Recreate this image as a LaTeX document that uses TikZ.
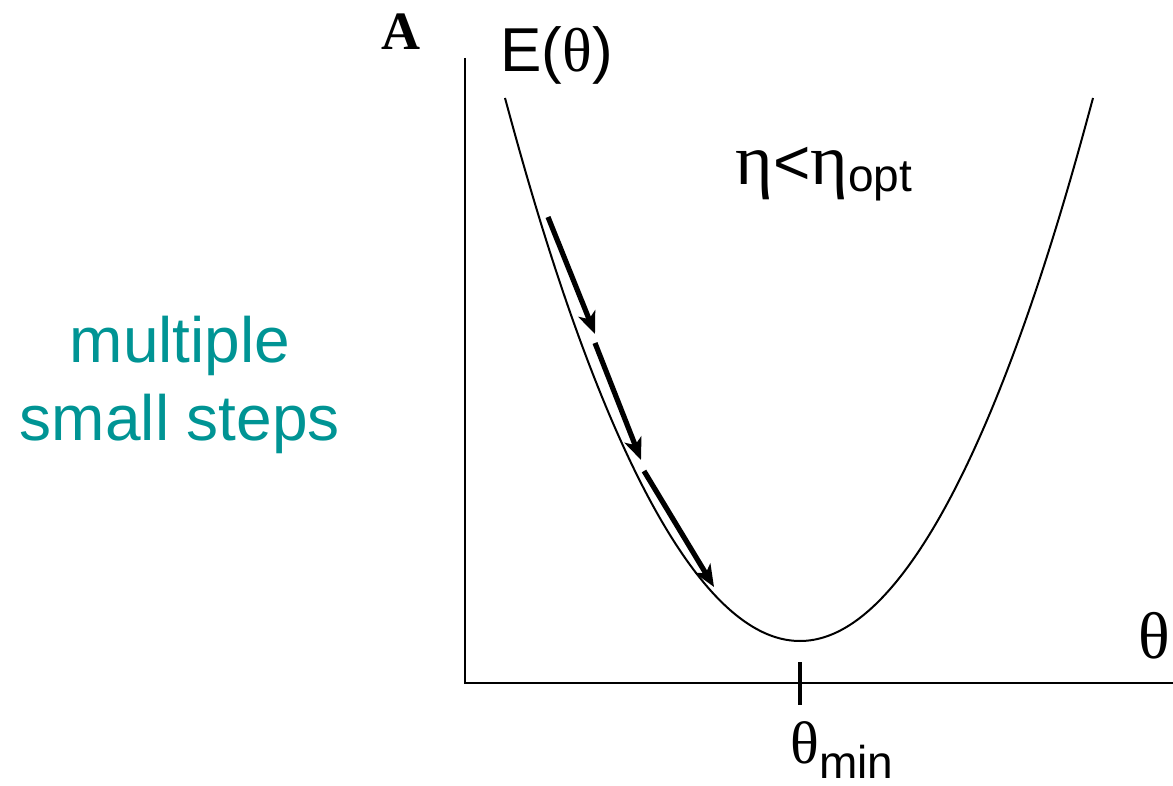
\documentclass[tikz,border=0pt]{standalone}
\usepackage{fontspec}
\setmainfont{Liberation Sans}
\newfontfamily\grk{Liberation Serif}
\usepackage{xcolor}
\usetikzlibrary{arrows.meta}

\definecolor{stepteal}{RGB}{0,148,148}

\begin{document}
\begin{tikzpicture}[
    x=0.5pt, y=-0.5pt,
    axis/.style={line width=1.4pt},
    curve/.style={line width=1pt},
    stepArrow/.style={
      -{Stealth[length=11pt,width=9pt,inset=3pt]},
      line width=2.6pt
    },
    lbl/.style={inner sep=0pt, anchor=base west},
    steps/.style={
      align=center,
      text=stepteal,
      inner sep=0pt,
      font=\fontsize{32}{39}\selectfont
    }
  ]
    \useasboundingbox (0,0) rectangle (1173,786);

    \coordinate (ytop) at (465,58);
    \coordinate (origin) at (465,683);
    \coordinate (xend) at (1173,683);
    \draw[axis] (ytop) -- (origin) -- (xend);

    \coordinate (tickhi) at (800,662);
    \coordinate (ticklo) at (800,705);
    \draw[line width=2pt] (tickhi) -- (ticklo);

    \draw[curve] (505,98) parabola bend (800,641) (1093,98);

    \coordinate (s1) at (548,217);
    \coordinate (e1) at (595,334);
    \coordinate (s2) at (595,343);
    \coordinate (e2) at (641,460);
    \coordinate (s3) at (644,471);
    \coordinate (e3) at (714,587);
    \draw[stepArrow] (s1) -- (e1);
    \draw[stepArrow] (s2) -- (e2);
    \draw[stepArrow] (s3) -- (e3);

    \node[lbl, font=\fontsize{27}{30}\grk\bfseries] (panel) at (381,50) {A};
    \node[lbl, font=\fontsize{31}{36}\selectfont] (ylabel) at (500,72) {E({\grk θ})};
    \node[lbl, font=\fontsize{32}{36}\selectfont] (rate) at (735,185)
      {{\fontsize{36}{38}\grk η}<{\fontsize{36}{38}\grk η}\raisebox{-3.5pt}{\fontsize{23}{24}\selectfont opt}};
    \node[lbl, font=\fontsize{33}{36}\grk] (xlabel) at (1138,658) {θ};
    \node[lbl, font=\fontsize{30}{36}\grk] (minlabel) at (790,763)
      {θ\raisebox{-7.5pt}{\fontsize{23}{24}\fontspec{Liberation Sans}min}};

    \node[steps] (steps) at (180,385) {multiple\\small steps};
  \end{tikzpicture}
\end{document}
